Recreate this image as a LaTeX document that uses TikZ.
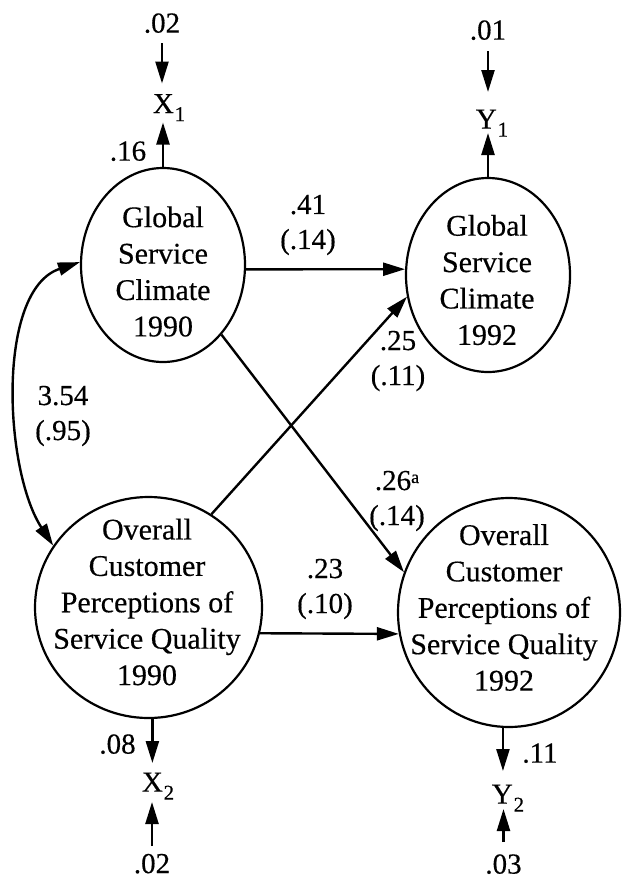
\documentclass[tikz,border=0pt]{standalone}
\usepackage{fontspec}
\setmainfont{Liberation Serif}[FakeBold=0.4]
\usetikzlibrary{shapes.geometric,arrows.meta}
\newcommand\sbs[1]{\kern0.4pt\raisebox{-4pt}{\fontsize{10.5}{10.5}\selectfont #1}}
\newcommand\sps[1]{\raisebox{3.5pt}{\fontsize{9}{9}\selectfont #1}}
\begin{document}
\begin{tikzpicture}[x=0.5pt,y=-0.5pt,
  every node/.style={inner sep=0pt},
  lv/.style={draw, ellipse, line width=1.1pt, inner sep=0pt},
  intext/.style={align=center, font=\fontsize{15}{18.2}\selectfont},
  lab/.style={font=\fontsize{14.5}{17.5}\selectfont, text height=9.6pt, text depth=0pt},
  lab2/.style={align=center, font=\fontsize{14.5}{17.5}\selectfont},
  arr/.style={line width=1.2pt, -{Triangle[length=11pt,width=6.5pt]}},
  darr/.style={line width=1.2pt, {Triangle[length=11pt,width=6.5pt]}-{Triangle[length=11pt,width=6.5pt]}}
]
\useasboundingbox (0,0) rectangle (626,884);

% latent variables
\node[lv, minimum width=82pt, minimum height=97pt] (e1) at (163,265) {};
\node[lv, minimum width=82pt, minimum height=97pt] (e2) at (488,275) {};
\node[lv, minimum width=113.5pt, minimum height=110.5pt] (c3) at (148.5,607.5) {};
\node[lv, minimum width=111pt, minimum height=114.5pt] (c4) at (509,612.5) {};

\node[intext] (t1) at (163,271.5) {Global\\Service\\Climate\\1990};
\node[intext] (t2) at (487,280) {Global\\Service\\Climate\\1992};
\node[intext] (t3) at (147,602) {Overall\\Customer\\Perceptions of\\Service Quality\\1990};
\node[intext] (t4) at (504,607.5) {Overall\\Customer\\Perceptions of\\Service Quality\\1992};

% indicators and errors
\node[lab] (ex1) at (162,23) {.02};
\node[lab] (x1) at (169,103.5) {X\sbs{1}};
\node[lab] (l16) at (128,151) {.16};

\node[lab] (ey1) at (488,30) {.01};
\node[lab] (y1) at (492,119) {Y\sbs{1}};

\node[lab] (l08) at (117.5,744) {.08};
\node[lab] (x2) at (158,782) {X\sbs{2}};
\node[lab] (ex2) at (152,863.5) {.02};

\node[lab] (l11) at (540,753) {.11};
\node[lab] (y2) at (508,794) {Y\sbs{2}};
\node[lab] (ey2) at (503.5,864) {.03};

% path labels
\node[lab2] (p41) at (308,225) {.41\\(.14)};
\node[lab2] (p25) at (398,361) {.25\\(.11)};
\node[lab2] (p26) at (397,501) {.26\sps{a}\\(.14)};
\node[lab2] (p23) at (325,589) {.23\\(.10)};
\node[lab2] (p354) at (63,416) {3.54\\(.95)};

% measurement arrows
\draw[arr, shorten <=5pt, shorten >=5pt] (ex1.south) -- (ex1.south |- x1.north);
\draw[arr, shorten >=4.5pt] (e1.north) -- (e1.north |- x1.south);
\draw[arr, shorten <=5.5pt, shorten >=8.5pt] (ey1.south) -- (ey1.south |- y1.north);
\draw[arr, shorten >=2pt] (e2.north) -- (e2.north |- y1.south);
\draw[arr, shorten >=4.5pt] (c3.-88) -- (c3.-88 |- x2.north);
\draw[arr, shorten <=3.75pt, shorten >=5pt] (ex2.north) -- (ex2.north |- x2.south);
\draw[arr, shorten >=6.5pt] (c4.-93) -- (c4.-93 |- y2.north);
\draw[arr, shorten <=6pt, shorten >=2.5pt] (ey2.north) -- (ey2.north |- y2.south);

% structural paths
\draw[arr] (e1.-3) -- (e2.176);
\draw[arr] (e1.-50) -- (c4.159);
\draw[arr] (c3.56) -- (e2.195);
\draw[arr] (c3.-13.5) -- (c4.191);
\draw[darr] (e1.178) .. controls (-4,290) and (4,470) .. (c3.147);
\end{tikzpicture}
\end{document}
